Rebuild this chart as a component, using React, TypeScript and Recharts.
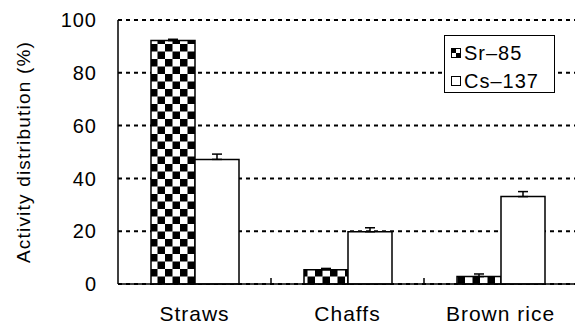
import { Bar, BarChart, CartesianGrid, ErrorBar, Legend, XAxis, YAxis } from "recharts";

const categories = ["Straws", "Chaffs", "Brown rice"];
const sr85 = [92.2, 5.4, 2.8];
const cs137 = [47.2, 19.8, 33.1];
const sr85Err = [0.5, 0.5, 1.0];
const cs137Err = [2.0, 1.5, 1.9];
const yTicks = [0, 20, 40, 60, 80, 100];

const data = categories.map((name, i) => ({
  name,
  sr: sr85[i],
  cs: cs137[i],
  srErr: [0, sr85Err[i]],
  csErr: [0, cs137Err[i]],
}));

const FONT = "'Liberation Sans', Arial, sans-serif";
const BAND = 153;

const XTick = (props: any) => {
  const { x, y, payload, index } = props;
  const axisY = y - 21;
  return (
    <g>
      {index < categories.length - 1 && (
        <line x1={x + BAND / 2} x2={x + BAND / 2} y1={axisY} y2={axisY - 6} stroke="#000" strokeWidth={1.5} />
      )}
      <text
        x={x}
        y={y + 1}
        dy="0.71em"
        textAnchor="middle"
        fontFamily={FONT}
        fontSize={21}
        letterSpacing={1}
        fill="#000"
      >
        {payload.value}
      </text>
    </g>
  );
};

const YLabel = (props: any) => {
  const { viewBox } = props;
  const cy = viewBox.y + viewBox.height / 2;
  return (
    <text
      x={23}
      y={cy}
      transform={`rotate(-90, 23, ${cy})`}
      textAnchor="middle"
      dominantBaseline="central"
      fontFamily={FONT}
      fontSize={19}
      letterSpacing={1.2}
      fill="#000"
    >
      Activity distribution (%)
    </text>
  );
};

const LegendBox = () => (
  <div
    style={{
      width: 109,
      height: 53,
      border: "1px solid #000",
      background: "#fff",
      fontFamily: FONT,
      fontSize: 20,
      letterSpacing: 1,
      color: "#000",
      lineHeight: "28px",
      paddingTop: 3,
      boxSizing: "content-box",
      overflow: "hidden",
    }}
  >
    <div style={{ display: "flex", alignItems: "center", marginLeft: 6, height: 28 }}>
      <svg width={10} height={10} style={{ marginRight: 3 }}>
        <rect x={0.5} y={0.5} width={9} height={9} fill="#fff" stroke="#000" />
        <rect x={0} y={0} width={5} height={5} fill="#000" />
        <rect x={5} y={5} width={5} height={5} fill="#000" />
      </svg>
      <span>Sr–85</span>
    </div>
    <div style={{ display: "flex", alignItems: "center", marginLeft: 6, height: 28 }}>
      <svg width={10} height={10} style={{ marginRight: 3 }}>
        <rect x={0.5} y={0.5} width={9} height={9} fill="#fff" stroke="#000" />
      </svg>
      <span>Cs–137</span>
    </div>
  </div>
);

export default function App() {
  return (
    <div style={{ position: "absolute", left: 0, top: 0, width: 575, height: 325, overflow: "hidden", background: "#fff" }}>
      <BarChart
        width={580}
        height={325}
        data={data}
        margin={{ top: 20, right: 3, bottom: 11, left: 58 }}
        barGap={0}
        barSize={44}
      >
        <defs>
          <pattern id="checker" width={15} height={15} patternUnits="userSpaceOnUse" x={0} y={284}>
            <rect width={15} height={15} fill="#fff" />
            <rect x={0} y={0} width={7.5} height={7.5} fill="#000" />
            <rect x={7.5} y={7.5} width={7.5} height={7.5} fill="#000" />
          </pattern>
        </defs>
        <CartesianGrid vertical={false} stroke="#000" strokeWidth={2} strokeDasharray="4 4" />
        <XAxis
          dataKey="name"
          axisLine={{ stroke: "#000", strokeWidth: 1.5 }}
          tickLine={false}
          tickSize={0}
          tickMargin={21}
          height={30}
          tick={<XTick />}
          interval={0}
        />
        <YAxis
          width={60}
          domain={[0, 100]}
          ticks={yTicks}
          axisLine={{ stroke: "#000", strokeWidth: 1.5 }}
          tickLine={false}
          tickSize={0}
          tickMargin={21}
          tick={{ fontFamily: FONT, fontSize: 20, fill: "#000", letterSpacing: 1 }}
          label={<YLabel />}
        />
        <Legend
          layout="horizontal"
          verticalAlign="middle"
          align="center"
          content={<LegendBox />}
          wrapperStyle={{ position: "absolute", left: 444, top: 35, width: "auto" }}
        />
        <Bar dataKey="sr" fill="url(#checker)" stroke="#000" strokeWidth={1.5} isAnimationActive={false}>
          <ErrorBar dataKey="srErr" width={5} stroke="#000" strokeWidth={1.5} />
        </Bar>
        <Bar dataKey="cs" fill="#fff" stroke="#000" strokeWidth={1.5} isAnimationActive={false}>
          <ErrorBar dataKey="csErr" width={5} stroke="#000" strokeWidth={1.5} />
        </Bar>
      </BarChart>
    </div>
  );
}
